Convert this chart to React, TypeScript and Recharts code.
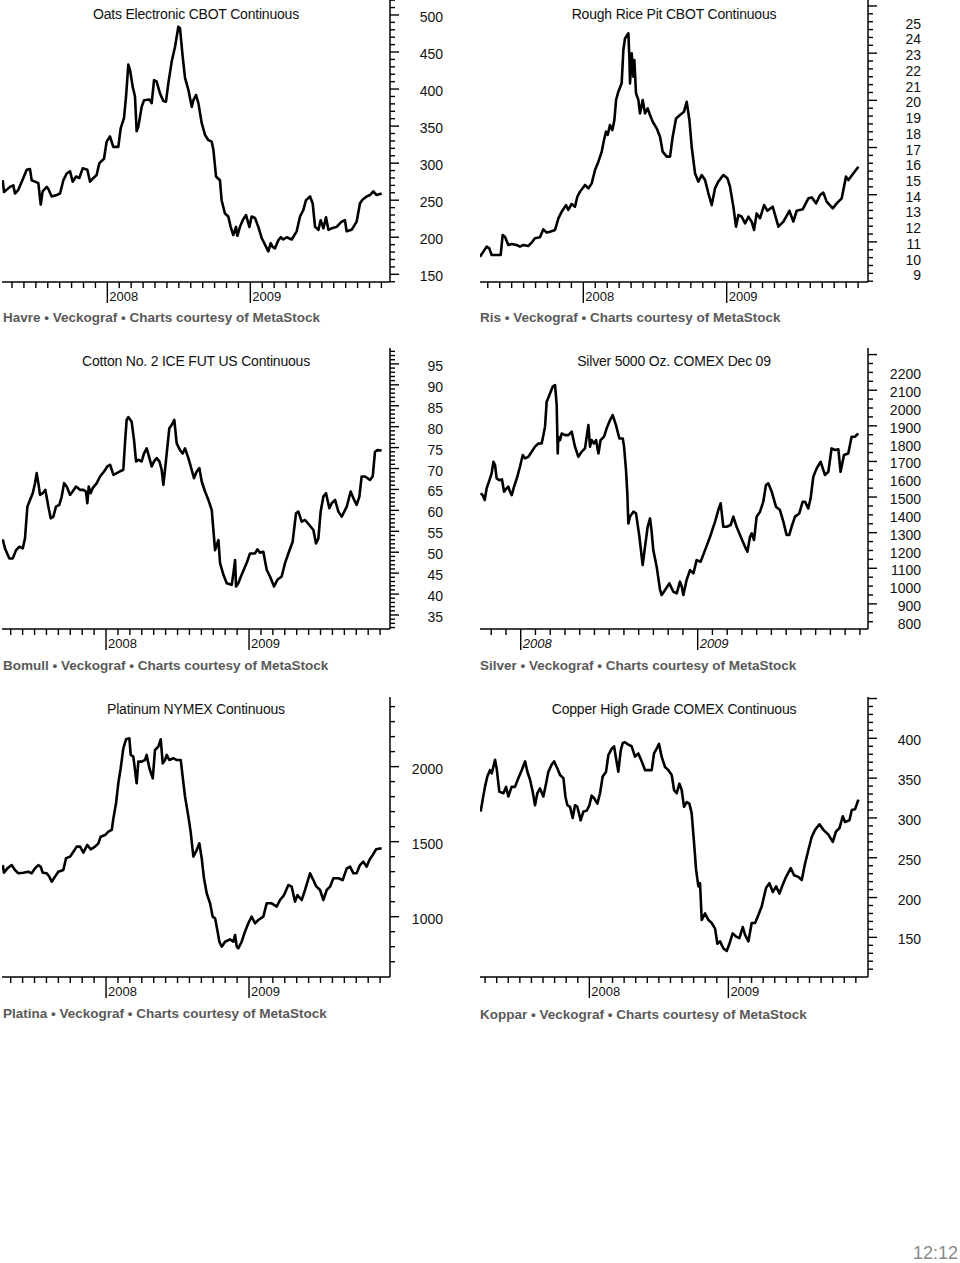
import { LineChart, Line, XAxis, YAxis } from 'recharts';

type Pt = [number, number];

// x = months from Jan 2008 (0 = 2008, 12 = 2009)
const yearTicks = [0, 12];
const yearLabels = ['2008', '2009'];

const oats: Pt[] = [
  [-8.78, 277], [-8.67, 261], [-8.17, 268], [-7.89, 270], [-7.75, 259], [-7.47, 264], [-7.05, 280], [-6.77, 291],
  [-6.49, 292], [-6.35, 277], [-6.07, 275], [-5.79, 273], [-5.59, 244], [-5.43, 262], [-5.09, 268], [-4.95, 265],
  [-4.67, 255], [-4.25, 257], [-3.97, 259], [-3.69, 277], [-3.41, 286], [-3.13, 289], [-2.91, 275], [-2.63, 282],
  [-2.35, 280], [-2.07, 293], [-1.68, 291], [-1.45, 275], [-1.17, 280], [-0.9, 284], [-0.67, 300], [-0.28, 306],
  [-0.06, 329], [0.22, 336], [0.5, 322], [0.92, 322], [1.12, 347], [1.4, 361], [1.57, 390], [1.76, 433],
  [1.9, 426], [2.13, 403], [2.32, 390], [2.46, 343], [2.6, 349], [2.88, 376], [3.08, 385], [3.52, 386],
  [3.72, 381], [3.92, 412], [4.14, 410], [4.42, 394], [4.7, 384], [4.92, 383], [5.12, 408], [5.4, 437],
  [5.68, 457], [5.96, 484], [6.1, 482], [6.32, 444], [6.52, 415], [6.8, 399], [7.08, 376], [7.22, 385],
  [7.44, 392], [7.64, 381], [7.92, 354], [8.2, 338], [8.48, 331], [8.76, 329], [8.9, 318], [9.12, 282],
  [9.45, 277], [9.59, 250], [9.87, 232], [10.15, 228], [10.35, 214], [10.57, 203], [10.8, 214], [10.91, 202],
  [11.13, 214], [11.36, 223], [11.64, 230], [11.92, 214], [12.11, 228], [12.39, 226], [12.67, 214], [12.95, 199],
  [13.23, 190], [13.51, 181], [13.71, 192], [13.87, 187], [14.07, 185], [14.35, 196], [14.55, 200], [14.77, 197],
  [15.05, 200], [15.47, 197], [15.89, 208], [16.17, 228], [16.45, 237], [16.67, 250], [17.01, 255], [17.23, 246],
  [17.43, 214], [17.71, 210], [17.9, 223], [18.13, 212], [18.35, 227], [18.55, 210], [18.83, 212], [19.24, 214],
  [19.66, 221], [19.94, 223], [20.08, 208], [20.5, 210], [20.92, 221], [21.2, 246], [21.43, 251], [21.76, 255],
  [22.04, 257], [22.32, 262], [22.6, 257], [23.02, 259],
];

const rice: Pt[] = [
  [-8.65, 10.06], [-8.37, 10.38], [-8.09, 10.7], [-7.87, 10.59], [-7.68, 10.17], [-7.26, 10.17], [-6.92, 10.17],
  [-6.75, 11.44], [-6.56, 11.33], [-6.28, 10.8], [-6.0, 10.87], [-5.58, 10.8], [-5.3, 10.7], [-5.02, 10.8],
  [-4.61, 10.74], [-4.33, 10.95], [-4.05, 11.23], [-3.63, 11.29], [-3.35, 11.8], [-3.07, 11.59], [-2.79, 11.65],
  [-2.37, 11.76], [-2.09, 12.5], [-1.81, 12.92], [-1.45, 13.34], [-1.26, 13.03], [-0.98, 13.41], [-0.7, 13.24],
  [-0.5, 13.87], [-0.28, 14.19], [0.14, 14.62], [0.42, 14.4], [0.7, 14.72], [0.98, 15.57], [1.26, 16.1],
  [1.54, 16.74], [1.73, 17.48], [1.9, 18.01], [2.04, 17.8], [2.23, 18.43], [2.43, 18.11], [2.6, 18.75],
  [2.74, 20.02], [2.93, 20.55], [3.21, 21.08], [3.35, 23.2], [3.49, 23.94], [3.77, 24.26], [3.85, 22.78],
  [3.91, 21.08], [4.05, 22.99], [4.19, 21.5], [4.27, 22.56], [4.41, 20.44], [4.61, 20.02], [4.74, 19.17],
  [4.97, 20.02], [5.16, 19.17], [5.39, 19.49], [5.58, 19.07], [5.81, 18.64], [6.14, 18.22], [6.42, 17.69],
  [6.64, 16.74], [6.98, 16.42], [7.26, 16.42], [7.48, 17.69], [7.76, 18.85], [8.09, 19.07], [8.43, 19.28],
  [8.65, 19.91], [8.88, 18.75], [9.07, 17.05], [9.35, 15.36], [9.63, 14.83], [9.91, 15.25], [10.19, 14.93],
  [10.47, 14.09], [10.75, 13.34], [11.02, 14.4], [11.3, 14.83], [11.72, 15.25], [12.06, 15.04], [12.28, 14.51],
  [12.56, 13.24], [12.78, 11.97], [12.98, 12.71], [13.26, 12.6], [13.54, 12.18], [13.82, 12.6], [14.09, 12.29],
  [14.29, 11.76], [14.51, 12.81], [14.79, 12.5], [15.13, 13.34], [15.41, 12.98], [15.85, 13.24], [16.33, 11.97],
  [16.75, 12.29], [17.25, 12.98], [17.58, 12.29], [17.86, 12.98], [18.36, 13.07], [18.84, 13.77], [19.12, 13.83],
  [19.48, 13.45], [19.82, 13.98], [20.09, 14.13], [20.37, 13.56], [20.88, 13.13], [21.21, 13.45], [21.63, 13.77],
  [21.99, 15.15], [22.19, 14.93], [22.61, 15.36], [23.03, 15.78],
];

const cotton: Pt[] = [
  [-8.67, 53.1], [-8.48, 50.9], [-8.11, 48.5], [-7.83, 48.5], [-7.55, 50.5], [-7.27, 51.3], [-6.99, 50.9],
  [-6.8, 53.3], [-6.6, 60.9], [-6.38, 62.5], [-6.15, 64.1], [-5.96, 66.5], [-5.82, 68.9], [-5.68, 66.5],
  [-5.54, 63.7], [-5.31, 64.1], [-5.09, 64.9], [-4.84, 60.9], [-4.64, 58.1], [-4.42, 58.5], [-4.2, 60.9],
  [-3.92, 61.3], [-3.72, 63.3], [-3.52, 66.5], [-3.3, 65.7], [-3.02, 63.7], [-2.8, 64.5], [-2.52, 65.7],
  [-2.18, 64.9], [-1.9, 64.9], [-1.68, 64.5], [-1.57, 61.7], [-1.45, 65.7], [-1.29, 64.1], [-1.12, 65.3],
  [-0.78, 66.5], [-0.5, 68.1], [-0.17, 69.3], [0.11, 70.5], [0.34, 70.9], [0.62, 68.5], [0.9, 68.9],
  [1.17, 69.3], [1.45, 69.7], [1.59, 76.0], [1.73, 81.6], [1.87, 82.3], [2.15, 81.2], [2.35, 76.8],
  [2.52, 71.7], [2.71, 72.1], [2.99, 71.7], [3.19, 73.6], [3.41, 74.8], [3.64, 72.5], [3.83, 70.5],
  [4.03, 71.7], [4.25, 72.5], [4.48, 71.7], [4.67, 69.7], [4.81, 66.1], [4.95, 69.7], [5.15, 75.2],
  [5.31, 79.6], [5.51, 80.4], [5.73, 81.6], [5.93, 76.0], [6.21, 74.4], [6.43, 73.6], [6.63, 74.8],
  [6.91, 72.5], [7.19, 69.7], [7.38, 67.7], [7.61, 69.3], [7.83, 70.1], [8.03, 66.9], [8.31, 64.5],
  [8.59, 62.5], [8.87, 60.1], [9.01, 55.3], [9.15, 50.5], [9.29, 51.7], [9.43, 52.9], [9.57, 47.4],
  [9.85, 44.6], [10.13, 42.6], [10.55, 42.2], [10.69, 45.0], [10.83, 48.1], [10.91, 41.8], [11.1, 42.6],
  [11.38, 44.6], [11.8, 47.4], [12.08, 49.7], [12.5, 49.7], [12.7, 50.7], [12.92, 49.9], [13.2, 50.1],
  [13.48, 45.8], [13.76, 44.2], [14.1, 41.8], [14.38, 43.4], [14.74, 44.2], [15.02, 47.4], [15.3, 49.7],
  [15.66, 52.5], [15.94, 59.3], [16.14, 59.7], [16.42, 57.3], [16.7, 57.7], [17.06, 56.5], [17.4, 55.3],
  [17.62, 52.1], [17.82, 53.3], [18.01, 59.7], [18.24, 63.3], [18.46, 64.1], [18.74, 60.5], [18.94, 61.7],
  [19.22, 62.5], [19.5, 59.7], [19.78, 58.5], [20.2, 60.9], [20.53, 64.5], [20.76, 62.9], [21.03, 61.3],
  [21.26, 63.3], [21.45, 68.1], [21.73, 68.1], [22.15, 67.3], [22.38, 68.1], [22.57, 74.0], [22.77, 74.4],
  [23.13, 74.3],
];

const silver: Pt[] = [
  [-2.71, 1521], [-2.58, 1511], [-2.44, 1483], [-2.31, 1549], [-2.12, 1595], [-1.97, 1633], [-1.85, 1698],
  [-1.74, 1680], [-1.63, 1605], [-1.45, 1595], [-1.27, 1599], [-1.13, 1530], [-0.95, 1549], [-0.84, 1558],
  [-0.72, 1530], [-0.61, 1511], [-0.45, 1558], [-0.23, 1614], [-0.05, 1670], [0.14, 1736], [0.29, 1717],
  [0.52, 1726], [0.75, 1755], [0.97, 1783], [1.2, 1801], [1.42, 1801], [1.54, 1848], [1.65, 1895],
  [1.76, 2035], [1.99, 2082], [2.17, 2120], [2.33, 2129], [2.44, 2017], [2.51, 1745], [2.55, 1839],
  [2.67, 1820], [2.78, 1857], [3.01, 1848], [3.23, 1848], [3.46, 1867], [3.68, 1783], [3.91, 1726],
  [4.14, 1755], [4.36, 1773], [4.59, 1904], [4.7, 1783], [4.81, 1820], [4.97, 1801], [5.11, 1820],
  [5.27, 1745], [5.42, 1820], [5.65, 1839], [5.83, 1886], [6.06, 1932], [6.24, 1960], [6.46, 1904],
  [6.69, 1829], [6.92, 1829], [7.01, 1783], [7.14, 1652], [7.23, 1521], [7.3, 1352], [7.41, 1390],
  [7.64, 1418], [7.82, 1408], [8.05, 1277], [8.27, 1118], [8.43, 1221], [8.61, 1333], [8.77, 1380],
  [8.88, 1305], [8.99, 1202], [9.22, 1109], [9.45, 978], [9.56, 950], [9.79, 978], [10.08, 1015],
  [10.35, 968], [10.58, 959], [10.8, 1025], [10.92, 997], [11.03, 950], [11.25, 1034], [11.48, 1090],
  [11.71, 1071], [11.93, 1146], [12.2, 1137], [12.5, 1202], [12.84, 1277], [13.18, 1362], [13.4, 1427],
  [13.56, 1465], [13.74, 1333], [13.97, 1333], [14.24, 1343], [14.42, 1390], [14.64, 1333], [14.92, 1277],
  [15.21, 1221], [15.37, 1193], [15.55, 1277], [15.66, 1296], [15.82, 1259], [16.0, 1390], [16.23, 1418],
  [16.45, 1474], [16.63, 1567], [16.79, 1577], [17.02, 1530], [17.31, 1446], [17.58, 1427], [17.81, 1362],
  [18.03, 1287], [18.21, 1287], [18.37, 1333], [18.6, 1390], [18.89, 1408], [19.12, 1474], [19.28, 1474],
  [19.5, 1436], [19.66, 1493], [19.84, 1614], [20.07, 1661], [20.34, 1698], [20.63, 1624], [20.86, 1642],
  [21.08, 1773], [21.31, 1764], [21.54, 1768], [21.69, 1642], [21.92, 1736], [22.21, 1745], [22.44, 1839],
  [22.67, 1839], [22.89, 1857],
];

const platinum: Pt[] = [
  [-8.67, 1344], [-8.56, 1293], [-8.28, 1322], [-7.92, 1344], [-7.64, 1311], [-7.36, 1289], [-6.94, 1293],
  [-6.52, 1300], [-6.24, 1289], [-5.96, 1322], [-5.68, 1344], [-5.48, 1333], [-5.31, 1293], [-4.98, 1289],
  [-4.76, 1267], [-4.56, 1233], [-4.28, 1267], [-4.0, 1300], [-3.58, 1311], [-3.36, 1389], [-3.02, 1400],
  [-2.74, 1433], [-2.46, 1467], [-2.18, 1467], [-1.9, 1427], [-1.57, 1478], [-1.29, 1449], [-0.92, 1467],
  [-0.64, 1489], [-0.45, 1533], [-0.08, 1544], [0.2, 1567], [0.48, 1578], [0.62, 1656], [0.84, 1756],
  [1.03, 1889], [1.23, 1989], [1.45, 2122], [1.68, 2182], [1.96, 2189], [2.07, 2078], [2.29, 2067],
  [2.43, 1978], [2.57, 1889], [2.71, 2033], [2.99, 2033], [3.27, 2044], [3.41, 2078], [3.64, 1989],
  [3.92, 1922], [4.11, 2111], [4.39, 2133], [4.59, 2182], [4.76, 2022], [4.95, 2044], [5.09, 2078],
  [5.31, 2044], [5.65, 2056], [5.93, 2044], [6.27, 2044], [6.43, 1933], [6.63, 1800], [6.91, 1667],
  [7.1, 1567], [7.33, 1400], [7.61, 1444], [7.83, 1489], [8.03, 1389], [8.22, 1256], [8.45, 1156],
  [8.73, 1089], [8.95, 1000], [9.15, 989], [9.34, 911], [9.51, 833], [9.71, 800], [9.99, 833],
  [10.41, 849], [10.69, 833], [10.83, 878], [10.97, 800], [11.1, 789], [11.38, 833], [11.66, 900],
  [11.94, 956], [12.22, 1000], [12.5, 956], [12.78, 978], [13.2, 1000], [13.48, 1089], [13.9, 1089],
  [14.32, 1067], [14.6, 1111], [14.94, 1144], [15.3, 1211], [15.58, 1200], [15.86, 1100], [16.06, 1144],
  [16.42, 1111], [16.7, 1178], [17.12, 1289], [17.4, 1244], [17.62, 1204], [17.96, 1178], [18.24, 1111],
  [18.52, 1178], [18.8, 1200], [19.08, 1256], [19.5, 1256], [19.86, 1244], [20.2, 1322], [20.48, 1333],
  [20.76, 1289], [21.03, 1289], [21.31, 1344], [21.59, 1367], [21.87, 1333], [22.1, 1378], [22.38, 1411],
  [22.66, 1449], [23.13, 1456],
];

const copper: Pt[] = [
  [-9.38, 308], [-9.21, 323], [-9.01, 339], [-8.81, 352], [-8.58, 360], [-8.43, 356], [-8.29, 364],
  [-8.14, 373], [-8.0, 362], [-7.77, 333], [-7.42, 331], [-7.19, 339], [-6.99, 327], [-6.71, 339],
  [-6.42, 339], [-6.13, 350], [-5.84, 360], [-5.55, 371], [-5.35, 358], [-5.12, 348], [-4.89, 333],
  [-4.69, 316], [-4.49, 331], [-4.26, 337], [-3.97, 327], [-3.74, 343], [-3.54, 358], [-3.25, 367],
  [-3.05, 371], [-2.76, 362], [-2.53, 354], [-2.24, 350], [-2.07, 327], [-1.9, 316], [-1.67, 314],
  [-1.44, 300], [-1.24, 316], [-1.04, 314], [-0.75, 297], [-0.52, 308], [-0.23, 309], [0, 316],
  [0.2, 328], [0.4, 325], [0.69, 318], [0.92, 331], [1.15, 352], [1.44, 358], [1.64, 379], [1.93, 387],
  [2.13, 390], [2.3, 375], [2.5, 358], [2.71, 385], [2.88, 394], [3.08, 395], [3.37, 392], [3.65, 390],
  [3.94, 377], [4.23, 381], [4.52, 371], [4.81, 360], [5.09, 360], [5.38, 360], [5.58, 381], [5.81, 387],
  [6.01, 393], [6.24, 377], [6.53, 364], [6.82, 360], [7.11, 354], [7.31, 335], [7.54, 331], [7.77, 343],
  [7.97, 335], [8.17, 314], [8.4, 320], [8.63, 318], [8.83, 306], [9.04, 268], [9.21, 235], [9.41, 214],
  [9.55, 218], [9.7, 172], [9.99, 180], [10.27, 172], [10.56, 168], [10.85, 161], [11.05, 142], [11.28, 145],
  [11.57, 136], [11.86, 133], [12.09, 142], [12.37, 155], [12.66, 151], [12.95, 149], [13.24, 163],
  [13.44, 153], [13.73, 145], [14.01, 168], [14.3, 168], [14.59, 178], [14.88, 189], [15.25, 212],
  [15.54, 218], [15.83, 207], [16.12, 214], [16.4, 205], [16.69, 216], [16.98, 226], [17.38, 237],
  [17.67, 228], [18.04, 226], [18.33, 222], [18.62, 243], [18.91, 260], [19.19, 276], [19.48, 285],
  [19.86, 292], [20.2, 285], [20.63, 279], [21.01, 270], [21.29, 283], [21.58, 287], [21.87, 302],
  [22.07, 295], [22.45, 297], [22.65, 310], [22.94, 311], [23.22, 323],
];

const oatsLabels = [150, 200, 250, 300, 350, 400, 450, 500];
const riceLabels = [9, 10, 11, 12, 13, 14, 15, 16, 17, 18, 19, 20, 21, 22, 23, 24, 25];
const cottonLabels = [35, 40, 45, 50, 55, 60, 65, 70, 75, 80, 85, 90, 95];
const silverLabels = [800, 900, 1000, 1100, 1200, 1300, 1400, 1500, 1600, 1700, 1800, 1900, 2000, 2100, 2200];
const platinumLabels = [1000, 1500, 2000];
const copperLabels = [150, 200, 250, 300, 350, 400];

const FONT = '"Liberation Sans", Arial, Helvetica, sans-serif';

const range = (a: number, b: number, step: number) => {
  const out: number[] = [];
  for (let v = a; v <= b + 1e-9; v += step) out.push(Math.round(v * 100) / 100);
  return out;
};

type PanelCfg = {
  title: string;
  caption: string;
  data: Pt[];
  left: number;
  right: number;
  top: number;
  bottom: number;
  xDomain: [number, number];
  yDomain: [number, number];
  xTicks: number[];
  yTicks: number[];
  yMajor: number[];
  yLabels: number[];
  titleY: number;
  captionY: number;
  italicYears?: boolean;
};

const panels: PanelCfg[] = [
  {
    title: 'Oats Electronic CBOT Continuous',
    caption: 'Havre • Veckograf • Charts courtesy of MetaStock',
    data: oats, left: 2, right: 390, top: 0, bottom: 282,
    xDomain: [-8.84, 23.72], yDomain: [139.6, 520.2],
    xTicks: range(-8, 23, 1), yTicks: range(140, 520, 10), yMajor: range(150, 500, 50), yLabels: oatsLabels,
    titleY: 14, captionY: 317,
  },
  {
    title: 'Rough Rice Pit CBOT Continuous',
    caption: 'Ris • Veckograf • Charts courtesy of MetaStock',
    data: rice, left: 480, right: 868, top: 0, bottom: 282,
    xDomain: [-8.65, 23.83], yDomain: [8.45, 26.38],
    xTicks: range(-8, 23, 1), yTicks: range(8.5, 26, 0.5), yMajor: [11, 14, 17, 20, 23, 26], yLabels: riceLabels,
    titleY: 14, captionY: 317,
  },
  {
    title: 'Cotton No. 2 ICE FUT US Continuous',
    caption: 'Bomull • Veckograf • Charts courtesy of MetaStock',
    data: cotton, left: 2, right: 390, top: 348, bottom: 629,
    xDomain: [-8.73, 23.83], yDomain: [31.65, 98.8],
    xTicks: range(-8, 23, 1), yTicks: range(32, 98, 1), yMajor: range(35, 95, 5), yLabels: cottonLabels,
    titleY: 361, captionY: 665,
  },
  {
    title: 'Silver 5000 Oz. COMEX Dec 09',
    caption: 'Silver • Veckograf • Charts courtesy of MetaStock',
    data: silver, left: 480, right: 868, top: 348, bottom: 629,
    xDomain: [-2.76, 23.55], yDomain: [759, 2337],
    xTicks: range(-2, 23, 1), yTicks: range(800, 2300, 50), yMajor: range(900, 2300, 200), yLabels: silverLabels,
    titleY: 361, captionY: 665, italicYears: true,
  },
  {
    title: 'Platinum NYMEX Continuous',
    caption: 'Platina • Veckograf • Charts courtesy of MetaStock',
    data: platinum, left: 2, right: 390, top: 697, bottom: 977,
    xDomain: [-8.73, 23.83], yDomain: [598, 2464],
    xTicks: range(-8, 23, 1), yTicks: range(700, 2400, 100), yMajor: platinumLabels, yLabels: platinumLabels,
    titleY: 709, captionY: 1013,
  },
  {
    title: 'Copper High Grade COMEX Continuous',
    caption: 'Koppar • Veckograf • Charts courtesy of MetaStock',
    data: copper, left: 480, right: 868, top: 697, bottom: 977,
    xDomain: [-9.44, 24.05], yDomain: [100.2, 451.9],
    xTicks: range(-9, 23, 1), yTicks: range(110, 450, 10), yMajor: range(150, 450, 50), yLabels: copperLabels,
    titleY: 709, captionY: 1014,
  },
];

const near = (list: number[], v: number) => list.some((m) => Math.abs(m - v) < 1e-6);

function makeYTick(major: number[], labels: number[]) {
  return (props: any) => {
    const { x, y, payload } = props;
    const v = payload.value;
    const isMajor = near(major, v);
    return (
      <g>
        <line x1={x} y1={y} x2={x + (isMajor ? 9 : 5)} y2={y} stroke="#000" strokeWidth={1.4} />
        {near(labels, v) && (
          <text x={x + 53} y={y + 2} dy="0.36em" textAnchor="end" fontSize={14} fill="#111" fontFamily={FONT}>
            {v}
          </text>
        )}
      </g>
    );
  };
}

function makeXTick(italic: boolean) {
  return (props: any) => {
    const { x, y, payload } = props;
    const yi = yearTicks.indexOf(payload.value);
    return (
      <g>
        <line x1={x} y1={y} x2={x} y2={y + (yi >= 0 ? 21 : 6)} stroke="#000" strokeWidth={1.4} />
        {yi >= 0 && (
          <text x={x + 2} y={y + 19} fontSize={13} fill="#111" fontFamily={FONT} fontStyle={italic ? 'italic' : 'normal'}>
            {yearLabels[yi]}
          </text>
        )}
      </g>
    );
  };
}

function Panel({ p }: { p: PanelCfg }) {
  const plotW = p.right - p.left;
  const plotH = p.bottom - p.top;
  const data = p.data.map(([m, v]) => ({ m, v }));
  return (
    <>
      <div style={{ position: 'absolute', left: p.left, top: p.top }}>
        <LineChart width={plotW + 70} height={plotH + 30} data={data} margin={{ top: 0, right: 0, bottom: 0, left: 0 }}>
          <XAxis
            dataKey="m"
            type="number"
            domain={p.xDomain}
            allowDataOverflow
            ticks={p.xTicks}
            interval={0}
            tickSize={0}
            tickMargin={0}
            height={30}
            tickLine={false}
            axisLine={{ stroke: '#000', strokeWidth: 1.5 }}
            tick={makeXTick(!!p.italicYears)}
          />
          <YAxis
            orientation="right"
            type="number"
            domain={p.yDomain}
            allowDataOverflow
            ticks={p.yTicks}
            interval={0}
            tickSize={0}
            tickMargin={0}
            width={70}
            tickLine={false}
            axisLine={{ stroke: '#000', strokeWidth: 1.5 }}
            tick={makeYTick(p.yMajor, p.yLabels)}
          />
          <Line type="linear" dataKey="v" stroke="#000" strokeWidth={2.6} strokeLinejoin="round" dot={false} isAnimationActive={false} />
        </LineChart>
      </div>
      <div
        style={{
          position: 'absolute',
          left: (p.left + p.right) / 2,
          top: p.titleY,
          transform: 'translate(-50%, -50%)',
          whiteSpace: 'nowrap',
          fontFamily: FONT,
          fontSize: 14,
          color: '#111',
          letterSpacing: -0.2,
        }}
      >
        {p.title}
      </div>
      <div
        style={{
          position: 'absolute',
          left: p.left === 2 ? 3 : 480,
          top: p.captionY,
          transform: 'translateY(-50%)',
          whiteSpace: 'nowrap',
          fontFamily: FONT,
          fontSize: 13.5,
          fontWeight: 'bold',
          color: '#595959',
        }}
      >
        {p.caption}
      </div>
    </>
  );
}

export default function App() {
  return (
    <div style={{ position: 'absolute', left: 0, top: 0, width: 960, height: 1263, background: '#fff', overflow: 'hidden' }}>
      {panels.map((p) => (
        <Panel key={p.title} p={p} />
      ))}
      <div style={{ position: 'absolute', right: 2, top: 1253, transform: 'translateY(-50%)', fontFamily: FONT, fontSize: 18, color: '#8a8a8a' }}>
        12:12
      </div>
    </div>
  );
}
